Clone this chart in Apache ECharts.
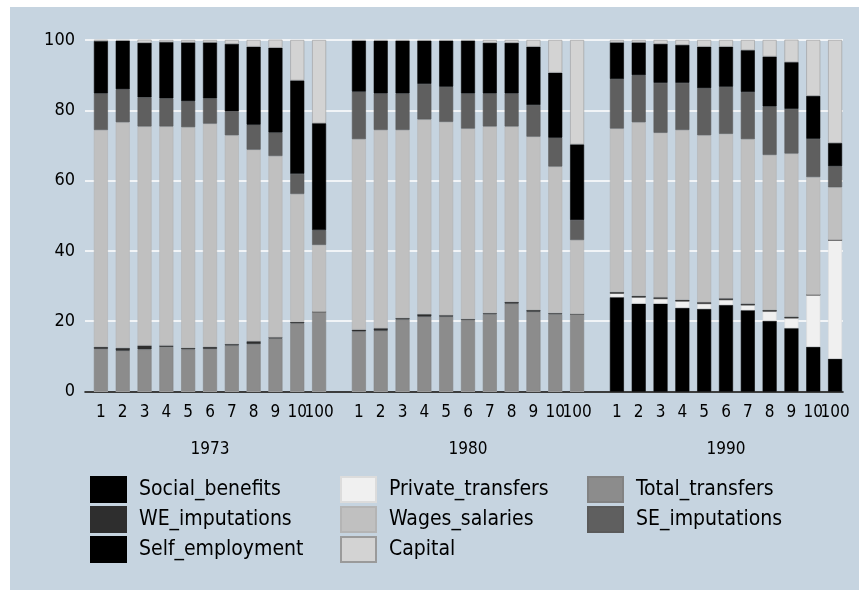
<!DOCTYPE html>
<html>
<head>
<meta charset="utf-8">
<script src="https://cdn.jsdelivr.net/npm/echarts@6/dist/echarts.min.js"></script>
<style>
  html, body { margin: 0; padding: 0; background: #fff; }
  #chart { position: absolute; left: 10px; top: 7px; width: 849px; height: 583px; }
</style>
</head>
<body>
<div id="chart"></div>
<script>
// categories
const years = ['1973', '1980', '1990'];
const deciles = ['1', '2', '3', '4', '5', '6', '7', '8', '9', '10', '100'];

// shares per year (1973, 1980, 1990), one value per decile
const socialBenefits = [
  [0, 0, 0, 0, 0, 0, 0, 0, 0, 0, 0],
  [0, 0, 0, 0, 0, 0, 0, 0, 0, 0, 0],
  [26.8, 25.0, 25.0, 23.8, 23.5, 24.6, 23.1, 20.1, 18.0, 12.7, 9.3]
];
const privateTransfers = [
  [0, 0, 0, 0, 0, 0, 0, 0, 0, 0, 0],
  [0, 0, 0, 0, 0, 0, 0, 0, 0, 0, 0],
  [1.1, 1.8, 1.4, 1.9, 1.5, 1.5, 1.5, 2.7, 2.9, 14.8, 33.8]
];
const totalTransfers = [
  [12.1, 11.6, 12.0, 12.7, 12.0, 12.1, 13.1, 13.5, 15.1, 19.4, 22.7],
  [17.1, 17.3, 20.5, 21.3, 21.3, 20.3, 22.0, 25.0, 22.7, 22.0, 22.0],
  [0, 0, 0, 0, 0, 0, 0, 0, 0, 0, 0]
];
const weImputations = [
  [0.6, 0.8, 1.1, 0.4, 0.4, 0.6, 0.4, 0.8, 0.3, 0.4, 0],
  [0.5, 0.7, 0.4, 0.7, 0.4, 0.3, 0.3, 0.5, 0.5, 0.3, 0],
  [0.4, 0.4, 0.4, 0.4, 0.4, 0.4, 0.4, 0.4, 0.4, 0, 0]
];
const wagesSalaries = [
  [61.7, 64.2, 62.3, 62.3, 62.8, 63.5, 59.4, 54.5, 51.6, 36.4, 19.0],
  [54.2, 56.4, 53.5, 55.4, 55.0, 54.2, 53.1, 49.9, 49.3, 41.7, 21.1],
  [46.5, 49.4, 46.8, 48.3, 47.5, 46.8, 46.8, 44.1, 46.4, 33.5, 15.0]
];
const seImputations = [
  [10.4, 9.4, 8.3, 8.0, 7.4, 7.2, 6.8, 7.1, 6.7, 5.7, 4.2],
  [13.5, 10.4, 10.4, 10.1, 10.0, 10.0, 9.4, 9.4, 9.0, 8.2, 5.7],
  [14.1, 13.4, 14.2, 13.4, 13.4, 13.4, 13.4, 13.8, 12.7, 10.9, 6.0]
];
const selfEmployment = [
  [14.9, 13.8, 15.5, 16.0, 16.7, 15.9, 19.2, 22.2, 24.1, 26.6, 30.4],
  [14.5, 15.0, 15.0, 12.3, 13.1, 15.0, 14.4, 14.4, 16.6, 18.5, 21.5],
  [10.4, 9.3, 11.1, 10.8, 11.8, 11.4, 11.9, 14.2, 13.3, 12.2, 6.6]
];
const capital = [
  [0.4, 0.2, 0.9, 0.6, 0.7, 0.7, 1.1, 1.9, 2.5, 11.5, 23.7],
  [0.2, 0.2, 0.2, 0.2, 0.2, 0.2, 0.8, 0.8, 1.9, 9.3, 29.7],
  [0.7, 0.7, 1.1, 1.4, 1.9, 1.9, 2.9, 4.7, 6.5, 15.9, 29.3]
];
const yTicks = [0, 20, 40, 60, 80, 100];

const components = [
  { name: 'Social_benefits',   data: socialBenefits,   color: '#000000', border: '#000000' },
  { name: 'Private_transfers', data: privateTransfers, color: '#f0f0f0', border: '#dcdcdc' },
  { name: 'Total_transfers',   data: totalTransfers,   color: '#8c8c8c', border: '#828282' },
  { name: 'WE_imputations',    data: weImputations,    color: '#2e2e2e', border: '#2e2e2e' },
  { name: 'Wages_salaries',    data: wagesSalaries,    color: '#c0c0c0', border: '#b4b4b4' },
  { name: 'SE_imputations',    data: seImputations,    color: '#5f5f5f', border: '#5a5a5a' },
  { name: 'Self_employment',   data: selfEmployment,   color: '#000000', border: '#000000' },
  { name: 'Capital',           data: capital,          color: '#d3d3d3', border: '#9a9a9a' }
];

const font = "'Liberation Sans Narrow', 'DejaVu Sans Condensed', sans-serif";
const gridTop = 33, gridBottom = 198.5;
const groupLeft = [80, 338, 596];

let grids = [{ left: 75, right: 16, top: gridTop, bottom: gridBottom }];
let xAxes = [{
  gridIndex: 0, type: 'value', min: 0, max: 1,
  axisLine: { show: true, lineStyle: { color: '#000', width: 1.5 } },
  axisTick: { show: false }, axisLabel: { show: false }, splitLine: { show: false }
}];
let yAxes = [{
  gridIndex: 0, type: 'value', min: 0, max: 100, interval: 20,
  axisLine: { show: false }, axisTick: { show: false },
  axisLabel: { color: '#000', fontSize: 18, fontFamily: font, margin: 10,
    formatter: v => yTicks.indexOf(v) >= 0 ? String(v) : '' },
  splitLine: { show: true, lineStyle: { color: '#ffffff', width: 1.5 } }
}];
let series = [];

years.forEach((yr, g) => {
  grids.push({ left: groupLeft[g], width: 240, top: gridTop, bottom: gridBottom });
  xAxes.push({
    gridIndex: g + 1, type: 'category', data: deciles,
    axisLine: { show: false }, axisTick: { show: false },
    axisLabel: { interval: 0, color: '#000', fontSize: 17, fontFamily: font, margin: 13 },
    name: yr, nameLocation: 'middle', nameGap: 50,
    nameTextStyle: { color: '#000', fontSize: 17, fontFamily: font }
  });
  yAxes.push({
    gridIndex: g + 1, type: 'value', min: 0, max: 100, show: false
  });
  components.forEach(c => {
    series.push({
      name: c.name, type: 'bar', stack: 'y' + g,
      xAxisIndex: g + 1, yAxisIndex: g + 1,
      barWidth: 14,
      itemStyle: { color: c.color, borderColor: c.border, borderWidth: 0.6 },
      data: c.data[g]
    });
  });
});

const legendBase = {
  orient: 'vertical', top: 469, padding: 0,
  itemWidth: 35, itemHeight: 25, itemGap: 3,
  icon: 'rect', selectedMode: false,
  textStyle: { color: '#000', fontSize: 21, lineHeight: 22, fontFamily: font, padding: [0, 0, 0, 8] }
};

const chart = echarts.init(document.getElementById('chart'));
chart.setOption({
  backgroundColor: '#c6d4e0',
  animation: false,
  grid: grids,
  xAxis: xAxes,
  yAxis: yAxes,
  legend: [
    Object.assign({}, legendBase, { left: 80, data: ['Social_benefits', 'WE_imputations', 'Self_employment'] }),
    Object.assign({}, legendBase, { left: 330, data: ['Private_transfers', 'Wages_salaries', 'Capital'] }),
    Object.assign({}, legendBase, { left: 577, data: ['Total_transfers', 'SE_imputations'] })
  ],
  series: series
});
</script>
</body>
</html>
